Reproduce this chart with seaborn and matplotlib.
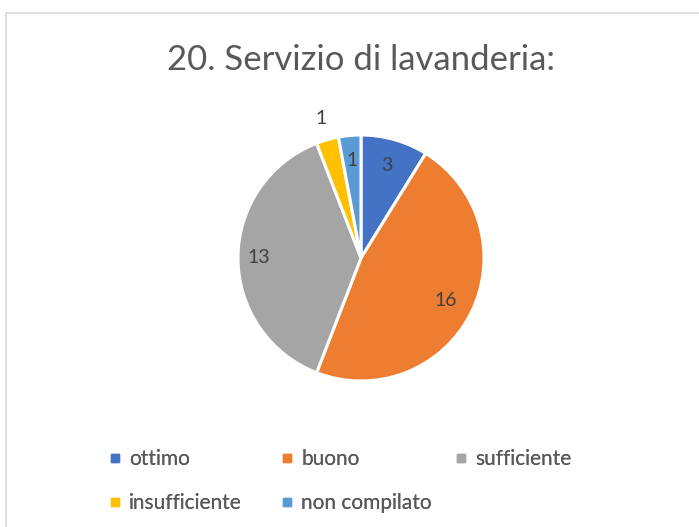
import numpy as np
import seaborn as sns
import matplotlib.pyplot as plt
from matplotlib.lines import Line2D
from matplotlib.patches import Rectangle

categories = ["ottimo", "buono", "sufficiente", "insufficiente", "non compilato"]
counts = [3, 16, 13, 1, 1]
colors = ["#4472C4", "#ED7D31", "#A5A5A5", "#FFC000", "#5B9BD5"]
# label distances (fraction of radius); the small yellow one sits outside
label_dist = [0.78, 0.77, 0.83, 1.18, 0.8]

sns.set_theme(style="white")
plt.rcParams["font.family"] = ["Lato", "DejaVu Sans"]

W, H = 699, 527
fig = plt.figure(figsize=(W / 100, H / 100), dpi=100)

# chart border (cut off on the right and bottom like the original)
fig.patches.append(Rectangle((6 / W, -0.1), 1.2, (H - 13) / H + 0.1,
                             transform=fig.transFigure, fill=False,
                             edgecolor="#d9d9d9", linewidth=1.2))

cx, cy, r = 361, 258, 123
ax = fig.add_axes([(cx - r) / W, (H - cy - r) / H, 2 * r / W, 2 * r / H])
wedges, texts = ax.pie(counts, colors=colors, startangle=90, counterclock=False,
                       wedgeprops=dict(edgecolor="white", linewidth=2.2),
                       labels=[str(c) for c in counts], labeldistance=0.8,
                       textprops=dict(color="#404040", fontsize=14))
for w, t, d in zip(wedges, texts, label_dist):
    ang = np.deg2rad((w.theta1 + w.theta2) / 2)
    t.set_position((d * np.cos(ang), d * np.sin(ang)))
    t.set_ha("center")
    t.set_va("center")
ax.set_xlim(-1, 1)
ax.set_ylim(-1, 1)
ax.axis("off")

fig.text(cx / W, 1 - 60 / H, "20. Servizio di lavanderia:", ha="center",
         va="center", fontsize=25, color="#595959")

# legend laid out in fixed columns like Excel
handles = [Line2D([], [], marker="s", linestyle="", markersize=6, color=c)
           for c in colors]
columns = [[0, 3], [1, 4], [2]]
col_x = [99, 271, 445]
for idx, x in zip(columns, col_x):
    leg = fig.legend([handles[i] for i in idx], [categories[i] for i in idx],
                     loc="upper left", bbox_to_anchor=(x / W, 1 - 441 / H),
                     frameon=False, fontsize=15, handlelength=0.7,
                     handletextpad=0.35, labelspacing=1.15, borderaxespad=0)
    for t in leg.get_texts():
        t.set_color("#595959")
    fig.add_artist(leg)

fig.savefig("out.png", dpi=100)
